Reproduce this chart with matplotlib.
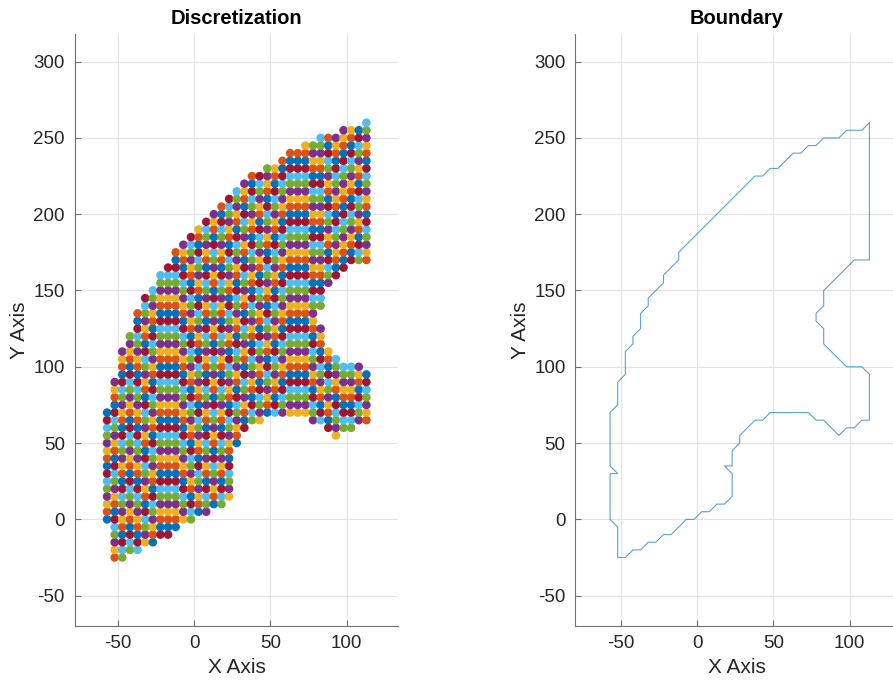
import numpy as np
import matplotlib.pyplot as plt

plt.rcParams['font.family'] = ['Liberation Sans', 'DejaVu Sans']
plt.rcParams['axes.unicode_minus'] = False

# discretization: grid columns (x) and filled y span of each column
col_x = [-57, -52, -47, -42, -37, -32, -27, -22, -17, -12, -7, -2, 3, 8, 13, 18, 23,
         28, 33, 38, 43, 48, 53, 58, 63, 68, 73, 78, 83, 88, 93, 98, 103, 108, 113]
col_lo = [0, -25, -25, -20, -20, -15, -15, -10, -10, -5, 0, 0, 5, 5, 10, 10, 15,
          50, 60, 65, 65, 70, 70, 70, 70, 70, 70, 65, 65, 60, 55, 60, 60, 65, 65]
col_hi = [70, 90, 110, 120, 135, 145, 150, 160, 165, 175, 180, 185, 190, 195, 200, 205, 210,
          215, 220, 225, 225, 230, 230, 235, 240, 240, 245, 245, 250, 250, 250, 255, 255, 255, 260]
# empty y spans inside the right-hand columns (the notch)
gap_x = [83, 88, 93, 98, 103, 108, 113]
gap_lo = [130, 115, 110, 105, 105, 105, 100]
gap_hi = [135, 150, 155, 160, 165, 165, 165]
step = 5

# boundary polygon
bnd_x = [113, 108, 98, 93, 83, 78, 73, 68, 63, 53, 48, 43, 38, -12, -12, -22, -22, -32, -32,
         -37, -37, -42, -42, -47, -47, -52, -52, -57, -57, -52, -57, -57, -52, -52, -47, -42,
         -37, -32, -27, -22, -17, -7, -2, 3, 8, 13, 18, 23, 23, 18, 23, 23, 28, 28, 38, 43,
         48, 73, 78, 83, 93, 98, 103, 108, 113, 113, 108, 98, 83, 83, 78, 78, 83, 83, 103,
         113, 113]
bnd_y = [260, 255, 255, 250, 250, 245, 245, 240, 240, 230, 230, 225, 225, 175, 170, 160, 155,
         145, 140, 135, 125, 120, 115, 110, 95, 90, 75, 70, 35, 30, 30, 0, -5, -25, -25, -20,
         -20, -15, -15, -10, -10, 0, 0, 5, 5, 10, 10, 15, 30, 35, 35, 45, 50, 55, 65, 65,
         70, 70, 65, 65, 55, 60, 60, 65, 65, 95, 100, 100, 115, 125, 130, 135, 140, 150, 170,
         170, 260]

matlab_colors = ['#0072BD', '#D95319', '#EDB120', '#7E2F8E', '#77AC30', '#4DBEEE', '#A2142F']

px, py = [], []
for x, lo, hi in zip(col_x, col_lo, col_hi):
    for y in range(lo, hi + step, step):
        if x in gap_x:
            k = gap_x.index(x)
            if gap_lo[k] <= y <= gap_hi[k]:
                continue
        px.append(x)
        py.append(y)
colors = [matlab_colors[i % 7] for i in range(len(px))]

W, H = 893, 686
fig = plt.figure(figsize=(W / 100, H / 100), dpi=100)

ax_w = 323.6 / W
ax_h = 591.7 / H
ax_b = (H - 625.7) / H
ax1 = fig.add_axes([74.7 / W, ax_b, ax_w, ax_h])
ax2 = fig.add_axes([575.3 / W, ax_b, ax_w, ax_h])

ax1.scatter(px, py, s=38, c=colors, linewidths=0, zorder=3)
ax2.plot(bnd_x, bnd_y, color='#0072BD', lw=0.8, alpha=0.65, zorder=3)

ax_col = '#262626'


def style(ax, title, xlim):
    ax.set_xlim(xlim)
    ax.set_ylim(-69.7, 318.1)
    ax.set_xticks([-50, 0, 50, 100])
    ax.set_yticks([-50, 0, 50, 100, 150, 200, 250, 300])
    ax.grid(True, color='#e3e3e3', lw=0.8, zorder=0)
    ax.set_axisbelow(True)
    for s in ['top', 'right']:
        ax.spines[s].set_visible(False)
    for s in ['left', 'bottom']:
        ax.spines[s].set_color('#707070')
        ax.spines[s].set_linewidth(0.8)
    ax.tick_params(direction='in', length=4, width=0.8, color='#707070',
                   labelcolor=ax_col, labelsize=13.5, pad=7)
    ax.set_title(title, fontsize=14.5, fontweight='bold', color='black', pad=7)
    ax.set_xlabel('X Axis', fontsize=15, color=ax_col)
    ax.set_ylabel('Y Axis', fontsize=15, color=ax_col)
    ax.xaxis.set_label_coords(0.5, -0.055)
    ax.yaxis.set_label_coords(-0.14, 0.5)


style(ax1, 'Discretization', (-78.2, 133.9))
style(ax2, 'Boundary', (-79.8, 132.3))

fig.savefig('out.png', dpi=100)
